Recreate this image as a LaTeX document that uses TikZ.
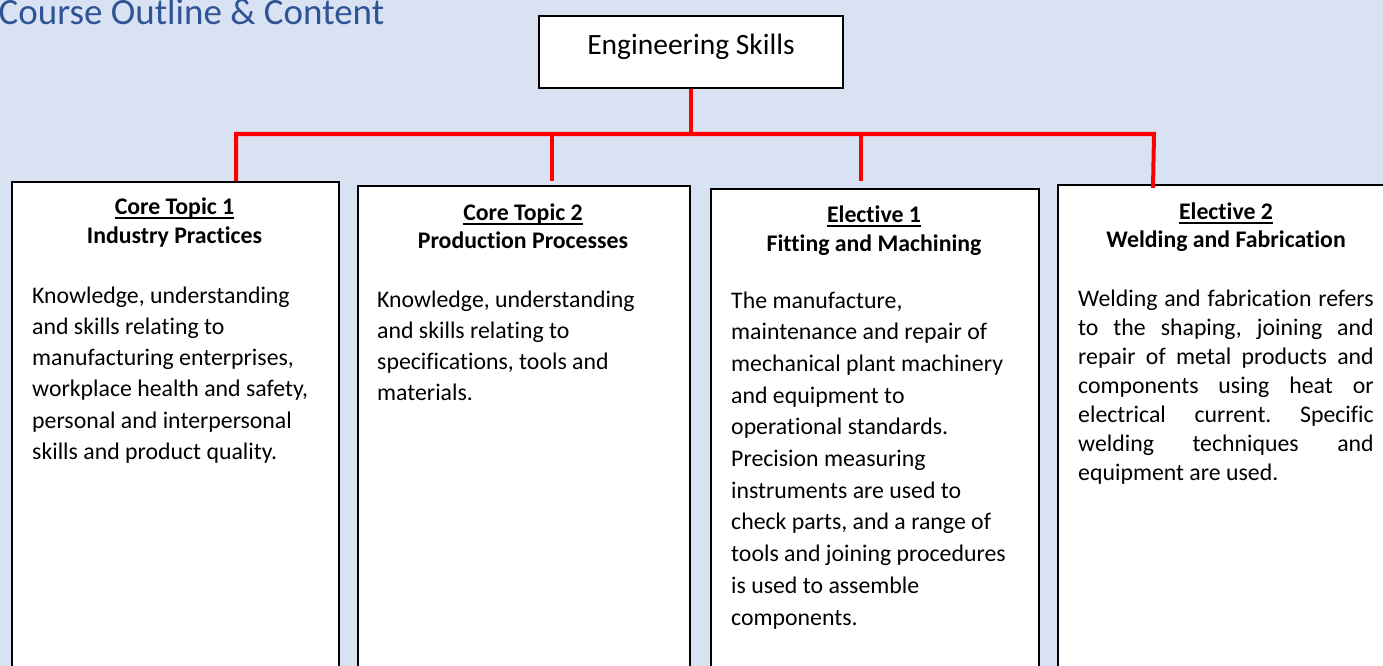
\documentclass[tikz,border=0pt]{standalone}
\usepackage{fontspec}
\setmainfont[Ligatures=NoCommon]{Carlito}
\usetikzlibrary{calc}
\definecolor{bgblue}{HTML}{D9E2F3}
\definecolor{titleblue}{HTML}{2F5496}
\newsavebox\myulbox
\newcommand\myul[1]{\sbox\myulbox{#1}\rlap{\rule[-4.6pt]{\wd\myulbox}{1.6pt}}\usebox\myulbox}
\frenchspacing
\begin{document}
\begin{tikzpicture}[x=1pt,y=-1pt,
  box/.style={draw=black,line width=1.8pt,fill=white,inner sep=0pt,anchor=north west},
  link/.style={draw=red,line width=4pt},
  head/.style={anchor=base,inner sep=0pt,font=\fontsize{23.8}{28}\selectfont\bfseries},
  body/.style={anchor=base west,inner sep=0pt}]
\useasboundingbox (0,0) rectangle (1383,666);
\clip (0,0) rectangle (1383,666);
\fill[bgblue] (0,0) rectangle (1383,666);
% title
\node[anchor=base west,inner sep=0pt,text=titleblue,font=\fontsize{37}{40}\selectfont] (title) at (-1.5,25) {Course Outline \& Content};
% root
\node[box,anchor=center,minimum width=304pt,minimum height=72pt,text height=13pt,text depth=7pt,font=\fontsize{29.5}{32}\selectfont] (root) at (691,52) {Engineering Skills};
% boxes
\node[box,minimum width=327pt,minimum height=519pt] (b1) at (11,181) {};
\node[box,minimum width=332pt,minimum height=515pt] (b2) at (357,185) {};
\node[box,minimum width=328pt,minimum height=512pt] (b3) at (710,188) {};
\node[box,minimum width=340pt,minimum height=516pt] (b4) at (1057,184) {};
% connectors
\coordinate (bl) at (236,134);
\coordinate (br) at (1154,134);
\coordinate (e1) at (236,181);
\coordinate (j2) at (552,134);
\coordinate (e2) at (552,181);
\coordinate (j3) at (861,134);
\coordinate (e3) at (861,181);
\coordinate (e4) at (1153,188);
\draw[link] (root.south) -- (root.south |- bl);
\draw[link] (e1) -- (bl) -- (br) -- (e4);
\draw[link] (j2) -- (e2);
\draw[link] (j3) -- (e3);
% box 1
\node[head] (h1a) at (174.5,214) {\myul{Core Topic 1}};
\node[head] (h1b) at (174.5,243) {Industry Practices};
\node[body] (t1) at (32,303) {\parbox[t]{300pt}{\fontsize{23.8}{31.3}\selectfont Knowledge, understanding\\ and skills relating to\\ manufacturing enterprises,\\ workplace health and safety,\\ personal and interpersonal\\ skills and product quality.}};
% box 2
\node[head] (h2a) at (523,220) {\myul{Core Topic 2}};
\node[head] (h2b) at (523,248) {Production Processes};
\node[body] (t2) at (377,307) {\parbox[t]{300pt}{\fontsize{23.8}{31.3}\selectfont Knowledge, understanding\\ and skills relating to\\ specifications, tools and\\ materials.}};
% box 3
\node[head] (h3a) at (874,222) {\myul{Elective 1}};
\node[head] (h3b) at (874,251) {Fitting and Machining};
\node[body] (t3) at (731,308) {\parbox[t]{300pt}{\fontsize{23.8}{31.7}\selectfont The manufacture,\\ maintenance and repair of\\ mechanical plant machinery\\ and equipment to\\ operational standards.\\ Precision measuring\\ instruments are used to\\ check parts, and a range of\\ tools and joining procedures\\ is used to assemble\\ components.}};
% box 4
\node[head] (h4a) at (1226,219) {\myul{Elective 2}};
\node[head] (h4b) at (1226,247) {Welding and Fabrication};
\node[body] (t4) at (1078,306) {\parbox[t]{295.5pt}{\fontsize{23.8}{29}\selectfont Welding and fabrication refers\linebreak to the shaping, joining and\linebreak repair of metal products and\linebreak components using heat or\linebreak electrical current. Specific\linebreak welding techniques and\linebreak equipment are used.}};
\end{tikzpicture}
\end{document}
